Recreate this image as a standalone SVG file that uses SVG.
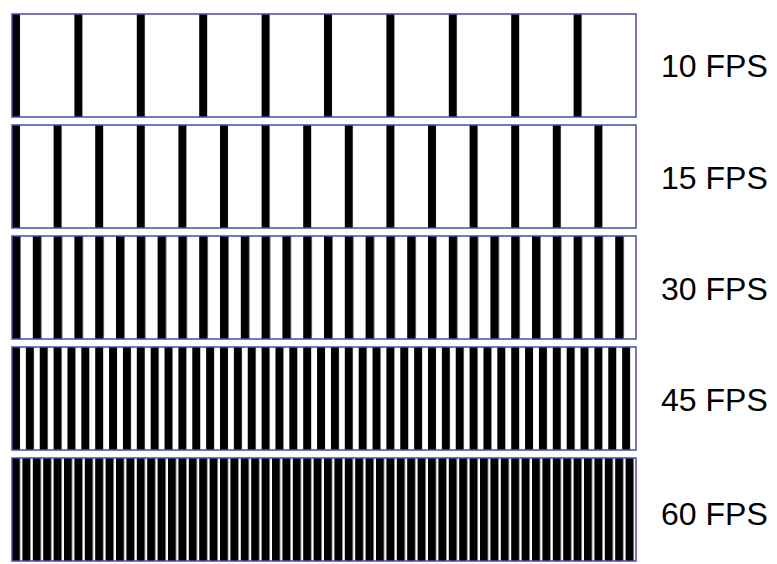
<svg xmlns="http://www.w3.org/2000/svg" width="777" height="564" viewBox="0 0 777 564">
  <style>
    .frame { stroke: #4b4ba6; stroke-width: 1.5; }
    .bar { fill: #000000; }
    .lbl { font-family: "Liberation Sans", Arial, sans-serif; font-size: 32px; fill: #000000; }
  </style>
  <defs>
    <pattern id="p10" patternUnits="userSpaceOnUse" x="12" y="0" width="62.4" height="564"><rect class="bar" x="0" y="0" width="8" height="564"/></pattern>
    <pattern id="p15" patternUnits="userSpaceOnUse" x="12" y="0" width="41.6" height="564"><rect class="bar" x="0" y="0" width="8" height="564"/></pattern>
    <pattern id="p30" patternUnits="userSpaceOnUse" x="12" y="0" width="20.8" height="564"><rect class="bar" x="0" y="0" width="8.5" height="564"/></pattern>
    <pattern id="p45" patternUnits="userSpaceOnUse" x="12" y="0" width="13.8667" height="564"><rect class="bar" x="0" y="0" width="8" height="564"/></pattern>
    <pattern id="p60" patternUnits="userSpaceOnUse" x="12" y="0" width="10.4" height="564"><rect class="bar" x="0" y="0" width="8" height="564"/></pattern>
  </defs>
  <rect width="777" height="564" fill="#ffffff"/>
  <g id="row-10fps">
    <rect x="12" y="14" width="624" height="103" fill="#ffffff"/>
    <rect x="12" y="14" width="624" height="103" fill="url(#p10)" class="frame"/>
    <text class="lbl" x="661" y="77">10 FPS</text>
  </g>
  <g id="row-15fps">
    <rect x="12" y="125" width="624" height="103" fill="#ffffff"/>
    <rect x="12" y="125" width="624" height="103" fill="url(#p15)" class="frame"/>
    <text class="lbl" x="661" y="189">15 FPS</text>
  </g>
  <g id="row-30fps">
    <rect x="12" y="236" width="624" height="103" fill="#ffffff"/>
    <rect x="12" y="236" width="624" height="103" fill="url(#p30)" class="frame"/>
    <text class="lbl" x="661" y="300">30 FPS</text>
  </g>
  <g id="row-45fps">
    <rect x="12" y="347" width="624" height="103" fill="#ffffff"/>
    <rect x="12" y="347" width="624" height="103" fill="url(#p45)" class="frame"/>
    <text class="lbl" x="661" y="411">45 FPS</text>
  </g>
  <g id="row-60fps">
    <rect x="12" y="458" width="624" height="103" fill="#ffffff"/>
    <rect x="12" y="458" width="624" height="103" fill="url(#p60)" class="frame"/>
    <text class="lbl" x="661" y="525">60 FPS</text>
  </g>
</svg>
